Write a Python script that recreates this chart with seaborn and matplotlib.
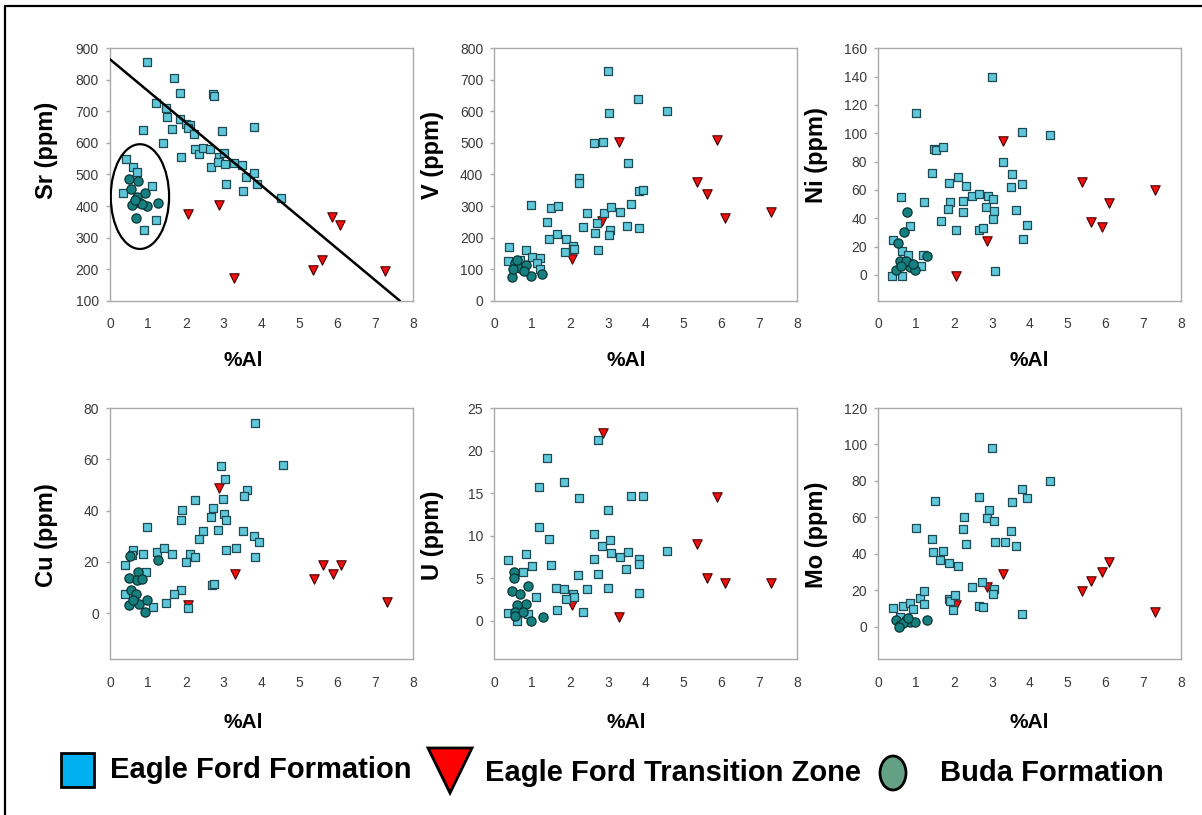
import matplotlib
matplotlib.use("Agg")
import matplotlib.pyplot as plt
import seaborn as sns
from matplotlib.patches import Ellipse, Rectangle, Polygon
from matplotlib.lines import Line2D

# ---------------- data (%Al vs trace element, ppm) ----------------
# Sr
sr_ef_al = [0.99, 1.69, 1.86, 2.72, 2.74, 1.22, 1.47, 1.50, 0.87, 1.64, 1.85, 2.00, 2.12, 2.06, 2.21,
            2.97, 3.81, 1.40, 2.25, 2.34, 2.46, 2.64, 1.88, 2.87, 3.02, 2.67, 2.84, 3.04, 3.28, 3.48,
            3.59, 3.79, 3.89, 3.06, 3.52, 4.51, 0.41, 0.61, 0.72, 0.35, 1.12, 1.21, 0.90]
sr_ef = [855, 807, 757, 755, 748, 728, 710, 683, 641, 645, 675, 659, 657, 646, 627,
         639, 650, 601, 581, 565, 583, 580, 555, 556, 567, 525, 540, 532, 535, 530,
         493, 506, 469, 470, 449, 424, 549, 523, 509, 440, 463, 356, 324]
sr_tz_al = [2.06, 2.87, 3.28, 5.35, 5.60, 5.86, 6.06, 7.26]
sr_tz = [374, 403, 173, 197, 229, 366, 340, 195]
sr_bu_al = [0.51, 0.75, 0.55, 0.92, 0.70, 0.59, 0.79, 0.98, 1.28, 0.68, 0.85, 0.66]
sr_bu = [486, 480, 453, 440, 430, 403, 410, 400, 411, 361, 408, 420]
sr_trend_al = [0.0, 7.65]
sr_trend = [865, 100]

# V
v_ef_al = [3.01, 3.80, 4.55, 3.03, 2.64, 2.86, 3.54, 2.24, 2.24, 3.82, 3.92, 0.97, 1.50, 1.69,
           1.40, 2.46, 2.90, 3.08, 3.32, 3.61, 2.35, 2.72, 2.66, 3.05, 3.03, 3.50, 3.82, 1.45,
           1.65, 1.89, 1.87, 2.07, 2.11, 2.75, 0.40, 0.85, 0.37, 0.99, 1.21, 0.68, 1.12, 1.20]
v_ef = [728, 639, 601, 594, 499, 504, 437, 390, 372, 349, 351, 303, 293, 300,
        248, 279, 277, 296, 282, 306, 234, 245, 213, 224, 208, 238, 232, 195,
        211, 194, 155, 173, 163, 160, 171, 160, 126, 139, 136, 129, 118, 102]
v_tz_al = [3.30, 2.85, 2.06, 5.89, 5.36, 5.61, 6.09, 7.30]
v_tz = [504, 252, 131, 509, 377, 338, 261, 282]
v_bu_al = [0.48, 0.55, 0.68, 0.85, 0.96, 1.27, 0.78, 0.59, 0.50]
v_bu = [76, 118, 105, 113, 78, 86, 95, 129, 102]

# Ni
ni_ef_al = [3.00, 0.99, 3.81, 4.54, 1.47, 1.52, 1.70, 3.30, 1.41, 3.54, 2.11, 1.87, 2.33, 3.51,
            3.81, 0.59, 1.22, 1.89, 2.23, 2.47, 2.67, 2.91, 3.04, 1.85, 2.25, 2.85, 3.06, 3.04,
            3.63, 1.65, 3.94, 0.85, 2.05, 2.67, 2.76, 3.82, 0.40, 0.62, 0.79, 1.19, 1.12, 0.35,
            0.62, 3.08, 0.66]
ni_ef = [139.5, 114.5, 101, 98.6, 89.2, 88.5, 90, 79.8, 72, 71.5, 69, 65, 62.8, 62,
         64.4, 55, 51.4, 51.4, 52, 56, 57, 56, 53.8, 46.3, 44.4, 47.9, 45, 39.6,
         45.5, 37.8, 35.4, 34.5, 32, 32, 33, 25.5, 25, 17, 14.4, 14.4, 6, -1,
         -0.5, 2.6, 8]
ni_tz_al = [3.29, 2.88, 2.05, 5.39, 5.62, 5.90, 6.10, 7.30]
ni_tz = [94.4, 23.6, -0.5, 65.6, 37.3, 33.7, 50.7, 59.7]
ni_bu_al = [0.77, 0.69, 0.51, 0.57, 0.48, 0.85, 0.97, 1.28, 0.73, 0.93, 0.60]
ni_bu = [44.4, 30.2, 22.7, 10, 3.5, 5.4, 3.5, 13.7, 10, 8, 6.6]

# Cu
cu_ef_al = [3.83, 4.56, 2.92, 3.04, 3.63, 3.55, 2.99, 2.24, 1.91, 1.87, 2.73, 2.66, 3.02, 3.06,
            2.86, 2.46, 3.50, 0.99, 2.35, 3.80, 3.93, 3.05, 3.33, 3.83, 0.62, 0.86, 1.23, 1.43,
            1.65, 2.11, 2.24, 2.00, 0.40, 0.57, 0.95, 2.68, 2.74, 1.87, 1.70, 0.40, 1.48, 1.13,
            2.07]
cu_ef = [74.2, 57.8, 57.4, 52.3, 48, 45.8, 44.5, 44.1, 40.4, 36.4, 41, 37.7, 38.7, 36.4,
         32.6, 32, 32, 33.8, 28.8, 30.3, 27.7, 24.8, 25.4, 21.9, 24.8, 23, 23.9, 25.5,
         23.2, 23.2, 21.9, 20, 18.7, 22.6, 16.1, 11, 11.6, 9, 7.7, 7.4, 3.9, 2.6,
         1.9]
cu_tz_al = [2.89, 3.30, 2.07, 5.39, 5.63, 5.90, 6.10, 7.31]
cu_tz = [49, 15.5, 3.2, 13.5, 18.7, 15.5, 18.7, 4.5]
cu_bu_al = [0.53, 1.28, 0.50, 0.75, 0.72, 0.84, 0.55, 0.69, 0.50, 0.77, 0.99, 0.92, 0.62]
cu_bu = [22.3, 20.6, 13.8, 16.1, 12.9, 13.5, 9, 7.4, 3.2, 3.5, 5.2, 0.6, 5.2]

# U
u_ef_al = [2.73, 1.40, 1.85, 1.18, 2.24, 3.60, 3.92, 3.01, 1.19, 1.45, 2.64, 3.05, 2.85, 3.07,
           3.32, 3.54, 4.55, 3.82, 3.82, 0.37, 0.85, 0.99, 1.50, 0.75, 2.63, 2.74, 2.22, 3.49,
           1.63, 1.85, 2.46, 3.01, 1.10, 2.07, 2.11, 1.89, 3.82, 1.66, 2.35, 0.37, 0.59, 0.90]
u_ef = [21.25, 19.1, 16.3, 15.7, 14.4, 14.6, 14.7, 13, 11, 9.6, 10.2, 9.45, 8.75, 7.9,
        7.5, 8.1, 8.2, 7.2, 6.7, 7.1, 7.8, 6.45, 6.5, 5.7, 7.3, 5.5, 5.35, 6.1,
        3.9, 3.7, 3.7, 3.8, 2.8, 3.1, 2.8, 2.5, 3.2, 1.25, 0.98, 0.86, 0.0, 0.8]
u_tz_al = [2.86, 5.89, 5.36, 5.61, 6.09, 7.30, 3.30, 2.06]
u_tz = [22.1, 14.5, 9.0, 5.0, 4.45, 4.45, 0.4, 1.8]
u_bu_al = [0.52, 0.52, 0.48, 0.68, 0.90, 0.84, 0.61, 0.55, 0.75, 0.96, 1.28, 0.55]
u_bu = [5.7, 5.0, 3.5, 3.1, 4.1, 2.0, 1.9, 1.05, 1.05, 0.0, 0.47, 0.55]

# Mo
mo_ef_al = [3.01, 4.54, 3.79, 3.92, 2.66, 3.54, 1.50, 2.93, 2.86, 3.06, 2.26, 0.99, 2.23, 3.51,
            1.41, 2.33, 3.08, 3.35, 3.63, 1.45, 1.70, 1.63, 1.87, 2.11, 2.47, 2.75, 3.06, 3.02,
            0.40, 0.66, 0.84, 1.10, 1.22, 1.21, 0.93, 1.87, 1.90, 2.04, 1.98, 2.66, 2.76, 3.81,
            0.57]
mo_ef = [98.2, 79.9, 75.3, 70.4, 71.3, 68.6, 69.1, 64, 59.4, 58, 60.3, 53.9, 53.4, 52.5,
         48.1, 45.3, 46.3, 46.3, 44.4, 41.1, 41.7, 36.6, 34.7, 33.5, 21.9, 24.7, 20.7, 17.7,
         10.1, 11.3, 13.2, 15.5, 19.6, 12.2, 9.7, 15, 14.3, 17.4, 9.1, 11.5, 10.6, 6.9,
         5.5]
mo_tz_al = [3.29, 2.88, 2.05, 5.39, 5.62, 5.90, 6.10, 7.30]
mo_tz = [28.7, 21.6, 11.9, 19.6, 25, 29.8, 35.6, 7.9]
mo_bu_al = [0.48, 0.57, 0.73, 0.85, 0.97, 1.28, 0.66, 0.54, 0.79]
mo_bu = [3.7, 0.9, 3.7, 2.7, 2.4, 3.7, 1.8, 0.0, 4.6]

x_ticks = [0, 1, 2, 3, 4, 5, 6, 7, 8]
legend_labels = ["Eagle Ford Formation", "Eagle Ford Transition Zone", "Buda Formation"]

# ---------------- styling ----------------
sns.set_theme(style="white")
plt.rcParams['font.family'] = ['Liberation Sans', 'DejaVu Sans']

EF_FACE, EF_EDGE = "#5fc7da", "#1d4a52"
TZ_FACE, TZ_EDGE = "#f01010", "#4a0000"
BU_FACE, BU_EDGE = "#15807f", "#0a3535"
SPINE = "#a9a9a9"
TICK_TXT = "#3a3a3a"

W, H = 1202, 815
fig = plt.figure(figsize=(W / 100, H / 100), dpi=100)


def fx(x):
    return x / W


def fy(y):
    return 1 - y / H


def add_ax(left, top, right, bottom):
    return fig.add_axes([fx(left), fy(bottom), (right - left) / W, (bottom - top) / H])


def panel(ax, ef_x, ef_y, tz_x, tz_y, bu_x, bu_y, ylim, yticks):
    sns.scatterplot(x=tz_x, y=tz_y, marker="v", s=46, color=TZ_FACE,
                    edgecolor=TZ_EDGE, linewidth=0.8, ax=ax, zorder=3)
    sns.scatterplot(x=ef_x, y=ef_y, marker="s", s=34, color=EF_FACE,
                    edgecolor=EF_EDGE, linewidth=0.9, ax=ax, zorder=4)
    sns.scatterplot(x=bu_x, y=bu_y, marker="o", s=44, color=BU_FACE,
                    edgecolor=BU_EDGE, linewidth=0.9, ax=ax, zorder=5)
    ax.set_xlim(0, 8)
    ax.set_ylim(*ylim)
    ax.set_xticks(x_ticks)
    ax.set_yticks(yticks)
    ax.set_xlabel("")
    ax.set_ylabel("")
    for sp in ax.spines.values():
        sp.set_color(SPINE)
        sp.set_linewidth(1.0)
    ax.tick_params(axis="y", direction="out", length=3, width=1, color=SPINE,
                   labelsize=10, labelcolor=TICK_TXT, pad=5, left=True)
    ax.tick_params(axis="x", length=0, labelsize=10, labelcolor=TICK_TXT, pad=12)
    ax.set_facecolor("white")
    ax.grid(False)


top_row = (48.3, 300.7)
bot_row = (408, 659)
cols = [(110, 413), (494.3, 797.3), (878.3, 1181)]

ax_sr = add_ax(cols[0][0], top_row[0], cols[0][1], top_row[1])
ax_v = add_ax(cols[1][0], top_row[0], cols[1][1], top_row[1])
ax_ni = add_ax(cols[2][0], top_row[0], cols[2][1], top_row[1])
ax_cu = add_ax(cols[0][0], bot_row[0], cols[0][1], bot_row[1])
ax_u = add_ax(cols[1][0], bot_row[0], cols[1][1], bot_row[1])
ax_mo = add_ax(cols[2][0], bot_row[0], cols[2][1], bot_row[1])

panel(ax_sr, sr_ef_al, sr_ef, sr_tz_al, sr_tz, sr_bu_al, sr_bu, (100, 900), range(100, 901, 100))
panel(ax_v, v_ef_al, v_ef, v_tz_al, v_tz, v_bu_al, v_bu, (0, 800), range(0, 801, 100))
panel(ax_ni, ni_ef_al, ni_ef, ni_tz_al, ni_tz, ni_bu_al, ni_bu, (-18.2, 160), range(0, 161, 20))
panel(ax_cu, cu_ef_al, cu_ef, cu_tz_al, cu_tz, cu_bu_al, cu_bu, (-17.8, 80), range(0, 81, 20))
panel(ax_u, u_ef_al, u_ef, u_tz_al, u_tz, u_bu_al, u_bu, (-4.5, 25), range(0, 26, 5))
panel(ax_mo, mo_ef_al, mo_ef, mo_tz_al, mo_tz, mo_bu_al, mo_bu, (-17.7, 120), range(0, 121, 20))

# Sr trend line and the ellipse around the Buda cluster
sns.lineplot(x=sr_trend_al, y=sr_trend, color="black", linewidth=1.8, ax=ax_sr, zorder=6)
ax_sr.add_patch(Ellipse((0.79, 430), width=1.54, height=332, fill=False,
                        edgecolor="black", linewidth=1.6, zorder=6))
ax_sr.set_xlim(0, 8)
ax_sr.set_ylim(100, 900)

# axis titles
ylabels = [("Sr (ppm)", 47, 150), ("V (ppm)", 433, 155), ("Ni (ppm)", 817, 155),
           ("Cu (ppm)", 47, 535), ("U (ppm)", 433, 535), ("Mo (ppm)", 817, 535)]
for txt, x, y in ylabels:
    fig.text(fx(x), fy(y), txt, rotation=90, ha="center", va="center",
             fontsize=17, fontweight="bold", color="black")
xlabels = [(243, 360), (626, 360), (1029, 360), (243, 722), (626, 722), (1029, 722)]
for x, y in xlabels:
    fig.text(fx(x), fy(y), "%Al", ha="center", va="center",
             fontsize=15, fontweight="bold", color="black")

# legend
fig.add_artist(Rectangle((fx(61), fy(787)), 33 / W, 34 / H, transform=fig.transFigure,
                         facecolor="#00b0f0", edgecolor="black", linewidth=2))
fig.add_artist(Polygon([(fx(428), fy(748)), (fx(472), fy(748)), (fx(450), fy(793))],
                       closed=True, transform=fig.transFigure,
                       facecolor="#ff0000", edgecolor="black", linewidth=2))
fig.add_artist(Ellipse((fx(893), fy(773)), 26 / W, 34 / H, transform=fig.transFigure,
                       facecolor="#64a083", edgecolor="black", linewidth=2))
for txt, x, y in zip(legend_labels, [110, 485, 940], [770, 773, 773]):
    fig.text(fx(x), fy(y), txt, ha="left", va="center", fontsize=21,
             fontweight="bold", color="black")

# frame lines along the top and left edges
fig.add_artist(Line2D([fx(5), fx(1202)], [fy(6), fy(6)], transform=fig.transFigure,
                      color="black", linewidth=1.6))
fig.add_artist(Line2D([fx(5), fx(5)], [fy(6), fy(815)], transform=fig.transFigure,
                      color="black", linewidth=1.6))

fig.savefig("out.png", dpi=100, facecolor="white")
